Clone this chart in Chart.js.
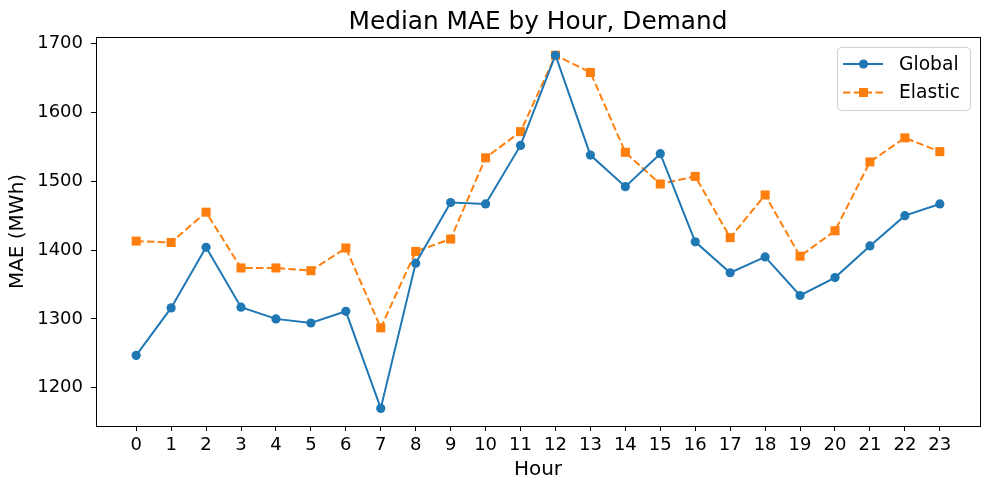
<!DOCTYPE html>
<html>
<head>
<meta charset="utf-8">
<script src="https://cdn.jsdelivr.net/npm/chart.js@4.4.1/dist/chart.umd.min.js"></script>
<style>
  html, body { margin: 0; padding: 0; background: #fff; }
  #wrap { width: 989px; height: 490px; }
</style>
</head>
<body>
<div id="wrap"><canvas id="chart" width="989" height="490"></canvas></div>
<script>
// datos
const hours = [0, 1, 2, 3, 4, 5, 6, 7, 8, 9, 10, 11, 12, 13, 14, 15, 16, 17, 18, 19, 20, 21, 22, 23];
const globalMae = [1247, 1316, 1404, 1317, 1300, 1294, 1311, 1170, 1381, 1469, 1467, 1552,
                   1683, 1538, 1492, 1540, 1412, 1367, 1390, 1334, 1360, 1406, 1450, 1467];
const elasticMae = [1413, 1411, 1455, 1374, 1374, 1370, 1403, 1287, 1398, 1416, 1534, 1572,
                    1683, 1658, 1542, 1496, 1507, 1418, 1480, 1391, 1428, 1528, 1563, 1543];
const yTicks = [1200, 1300, 1400, 1500, 1600, 1700];

const FONT = "'DejaVu Sans', sans-serif";
const BLUE = "#1f77b4";
const ORANGE = "#ff7f0e";
const TITLE = "Median MAE by Hour, Demand";

// titulo centrado sobre el area del grafico (como matplotlib)
const axTitle = {
    id: "axTitle",
    afterDraw(chart) {
        const { ctx, chartArea: a } = chart;
        ctx.save();
        ctx.fillStyle = "#000";
        ctx.font = "24.8px " + FONT;
        ctx.textAlign = "center";
        ctx.textBaseline = "alphabetic";
        ctx.fillText(TITLE, (a.left + a.right) / 2, 28.5);
        ctx.restore();
    },
};

// marco completo alrededor del area del grafico
const frame = {
    id: "frame",
    afterDatasetsDraw(chart) {
        const { ctx, chartArea: a } = chart;
        ctx.save();
        ctx.strokeStyle = "#000";
        ctx.lineWidth = 1;
        ctx.strokeRect(Math.round(a.left) + 0.5, Math.round(a.top) + 0.5,
            Math.round(a.right - a.left), Math.round(a.bottom - a.top));
        ctx.restore();
    },
};

// leyenda estilo matplotlib (linea + marcador)
const mplLegend = {
    id: "mplLegend",
    afterDraw(chart) {
        const { ctx, chartArea: a } = chart;
        const w = 133, h = 63;
        const x = a.right - 10 - w, y = a.top + 10;
        ctx.save();
        ctx.fillStyle = "rgba(255,255,255,0.8)";
        ctx.strokeStyle = "#d0d0d0";
        ctx.lineWidth = 1;
        ctx.beginPath();
        ctx.roundRect(x + 0.5, y + 0.5, w, h, 4);
        ctx.fill();
        ctx.stroke();
        const rows = chart.data.datasets;
        rows.forEach((ds, i) => {
            const ry = y + 17 + i * 28.5;
            ctx.strokeStyle = ds.borderColor;
            ctx.lineWidth = 2;
            ctx.setLineDash(ds.borderDash || []);
            ctx.beginPath();
            ctx.moveTo(x + 6, ry);
            ctx.lineTo(x + 46, ry);
            ctx.stroke();
            ctx.setLineDash([]);
            ctx.fillStyle = ds.backgroundColor;
            if (ds.pointStyle === "rect") {
                ctx.fillRect(x + 26.5 - 4.5, ry - 4.5, 9, 9);
            } else {
                ctx.beginPath();
                ctx.arc(x + 26.5, ry, 4.6, 0, Math.PI * 2);
                ctx.fill();
            }
            ctx.fillStyle = "#000";
            ctx.font = "18.7px " + FONT;
            ctx.textBaseline = "middle";
            ctx.fillText(ds.label, x + 62, ry + 1);
        });
        ctx.restore();
    },
};

const toPts = (arr) => arr.map((v, i) => ({ x: hours[i], y: v }));

new Chart(document.getElementById("chart"), {
    type: "line",
    data: {
        datasets: [
            {
                label: "Global",
                data: toPts(globalMae),
                borderColor: BLUE,
                backgroundColor: BLUE,
                borderWidth: 2,
                pointStyle: "circle",
                pointRadius: 4.6,
                pointBorderWidth: 0,
            },
            {
                label: "Elastic",
                data: toPts(elasticMae),
                borderColor: ORANGE,
                backgroundColor: ORANGE,
                borderWidth: 2,
                borderDash: [7.5, 3.3],
                pointStyle: "rect",
                pointRadius: 6.4,
                pointBorderWidth: 0,
            },
        ],
    },
    options: {
        responsive: false,
        animation: false,
        layout: { padding: { top: 37, right: 9, left: 0, bottom: 0 } },
        plugins: {
            legend: { display: false },
            tooltip: { enabled: false },
            title: { display: false },
        },
        scales: {
            x: {
                type: "linear",
                min: -1.15,
                max: 24.15,
                afterBuildTicks: (axis) => { axis.ticks = hours.map((h) => ({ value: h })); },
                afterFit: (axis) => { axis.height = 64; },
                grid: { display: true, drawOnChartArea: false, color: "#000", tickLength: 5, tickWidth: 1 },
                border: { display: false },
                ticks: { color: "#000", font: { family: FONT, size: 18 }, padding: 4, maxRotation: 0, autoSkip: false },
                title: {
                    display: true, text: "Hour", color: "#000",
                    font: { family: FONT, size: 20 }, padding: { top: 0, bottom: 8 },
                },
            },
            y: {
                min: 1144.4,
                max: 1709.5,
                afterBuildTicks: (axis) => { axis.ticks = yTicks.map((v) => ({ value: v })); },
                afterFit: (axis) => { axis.width = 96; },
                grid: { display: true, drawOnChartArea: false, color: "#000", tickLength: 5, tickWidth: 1 },
                border: { display: false },
                ticks: { color: "#000", font: { family: FONT, size: 18 }, padding: 8, callback: (v) => String(v) },
                title: {
                    display: true, text: "MAE (MWh)", color: "#000",
                    font: { family: FONT, size: 20 }, padding: { top: 6, bottom: 0 },
                },
            },
        },
    },
    plugins: [frame, mplLegend, axTitle],
});
</script>
</body>
</html>
